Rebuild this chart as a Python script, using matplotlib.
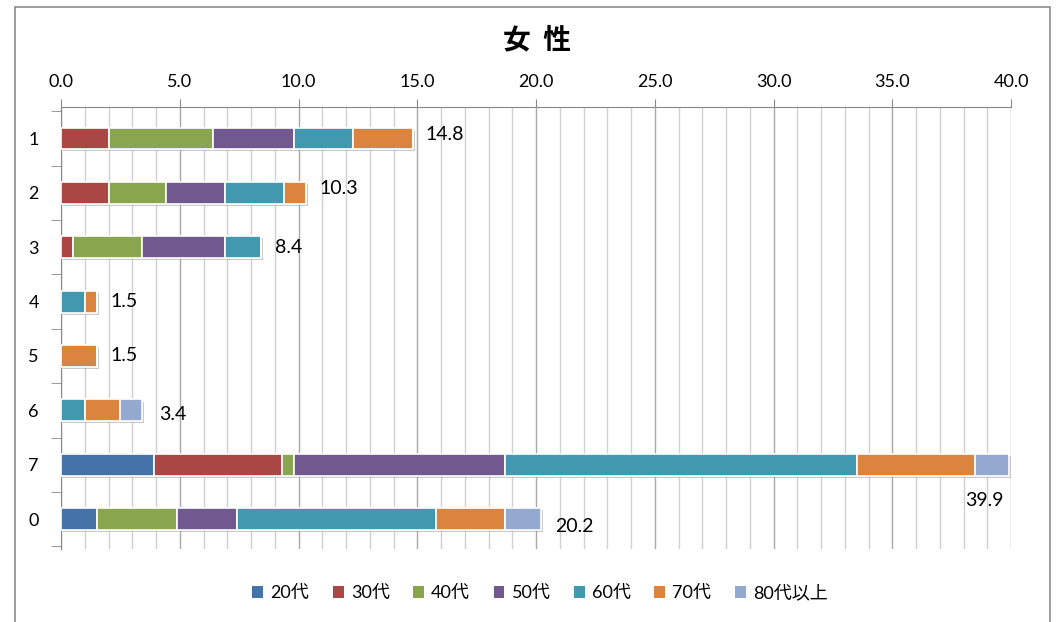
import matplotlib
matplotlib.use('Agg')
import matplotlib.pyplot as plt
import matplotlib.patheffects as pe
from matplotlib.patches import Rectangle, Patch
import numpy as np

plt.rcParams['font.family'] = ['Lato', 'Noto Sans CJK JP', 'DejaVu Sans']

# rows from top to bottom
categories = ['1', '2', '3', '4', '5', '6', '7', '0']
series = ['20代', '30代', '40代', '50代', '60代', '70代', '80代以上']
values = {
    '20代':     [0.0, 0.0, 0.0, 0.0, 0.0, 0.0, 3.9, 1.5],
    '30代':     [2.0, 2.0, 0.5, 0.0, 0.0, 0.0, 5.4, 0.0],
    '40代':     [4.4, 2.4, 2.9, 0.0, 0.0, 0.0, 0.5, 3.4],
    '50代':     [3.4, 2.5, 3.5, 0.0, 0.0, 0.0, 8.9, 2.5],
    '60代':     [2.5, 2.5, 1.5, 1.0, 0.0, 1.0, 14.8, 8.4],
    '70代':     [2.5, 0.9, 0.0, 0.5, 1.5, 1.5, 5.0, 2.9],
    '80代以上': [0.0, 0.0, 0.0, 0.0, 0.0, 0.9, 1.4, 1.5],
}
totals = [14.8, 10.3, 8.4, 1.5, 1.5, 3.4, 39.9, 20.2]
colors = ['#4572A7', '#AA4643', '#89A54E', '#71588F', '#4198AF', '#DB843D', '#93A9CF']

# label placement tweaks (x offset, y offset in row units, alignment)
label_dx = [0.55, 0.6, 0.6, 0.6, 0.6, 0.75, -0.2, 0.6]
label_dy = [-0.07, -0.09, 0.0, 0.0, 0.0, 0.07, 0.66, 0.13]
label_ha = ['left', 'left', 'left', 'left', 'left', 'left', 'right', 'left']


def main():
    fig = plt.figure(figsize=(10.6, 6.22), dpi=100)
    ax = fig.add_axes([61 / 1060, 1 - 549 / 622, 950 / 1060, 442 / 622])

    y = np.arange(len(categories))
    left = np.zeros(len(categories))
    shadow = [pe.SimplePatchShadow(offset=(1.5, -1.5), shadow_rgbFace='#999999', alpha=0.5), pe.Normal()]
    for name, c in zip(series, colors):
        v = np.array(values[name])
        bars = ax.barh(y, v, left=left, height=0.4, color=c, edgecolor='white',
                       linewidth=1.2, zorder=3)
        for b in bars:
            b.set_path_effects(shadow)
        left += v

    for i, t in enumerate(totals):
        ax.text(t + label_dx[i], y[i] + label_dy[i], f'{t:.1f}', ha=label_ha[i],
                va='center', fontsize=14, color='black')

    ax.set_xlim(0, 40)
    ax.set_ylim(7.55, -0.58)
    ax.xaxis.tick_top()
    ax.set_xticks(np.arange(0, 41, 5))
    ax.set_xticklabels([f'{v:.1f}' for v in np.arange(0, 41, 5)], fontsize=13)
    ax.set_xticks(np.arange(0, 41, 1), minor=True)
    ax.tick_params(axis='x', which='major', length=6, color='#888888', pad=6)
    ax.tick_params(axis='x', which='minor', length=0)
    ax.grid(axis='x', which='minor', color='#d0d0d0', linewidth=1, zorder=0)
    ax.grid(axis='x', which='major', color='#a8a8a8', linewidth=1, zorder=0)

    ax.set_yticks(y)
    ax.set_yticklabels(categories, fontsize=13)
    ax.set_yticks(np.arange(-0.5, 8, 1), minor=True)
    ax.tick_params(axis='y', which='major', length=0, pad=16)
    ax.tick_params(axis='y', which='minor', length=7, color='#888888')

    for s in ['right', 'bottom']:
        ax.spines[s].set_visible(False)
    ax.spines['left'].set_color('#888888')
    ax.spines['top'].set_color('#888888')

    fig.text(537 / 1060, 1 - 40 / 622, '女  性', ha='center', va='center',
             fontsize=20, fontweight='bold', family=['Noto Sans CJK JP'])

    handles = [Patch(facecolor=c, edgecolor='none') for c in colors]
    fig.legend(handles, series, loc='center', bbox_to_anchor=(540 / 1060, 1 - 593 / 622),
               ncol=7, frameon=False, fontsize=13, handlelength=0.6, handleheight=0.6,
               handletextpad=0.4, columnspacing=1.3)

    fig.patches.append(Rectangle((15 / 1060, -0.02), 1035 / 1060, 1.02 - 7 / 622,
                                 transform=fig.transFigure, fill=False,
                                 edgecolor='#8c8c8c', linewidth=1.2))

    fig.savefig('out.png', dpi=100)


if __name__ == '__main__':
    main()
